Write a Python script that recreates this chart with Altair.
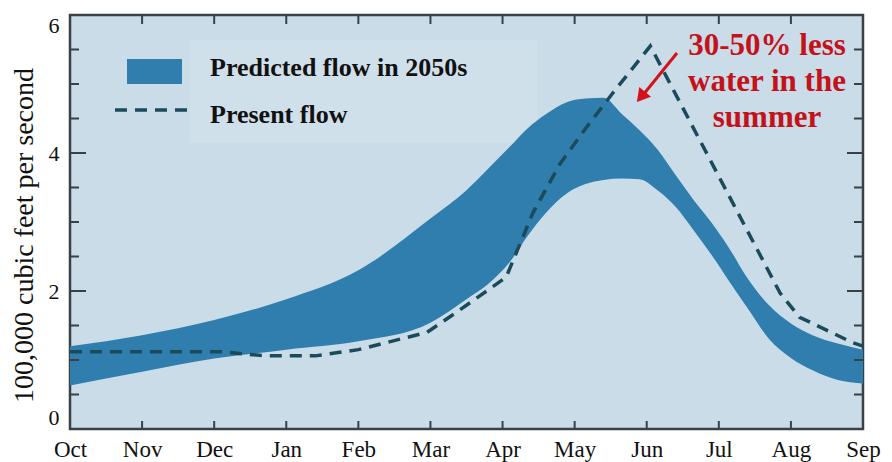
import altair as alt
import pandas as pd

# ---- data ----
months = ["Oct", "Nov", "Dec", "Jan", "Feb", "Mar", "Apr", "May", "Jun", "Jul", "Aug", "Sep"]

# predicted flow band (month index, lower, upper) in 100,000 cfs
band_x = [0, 1, 2, 3, 4, 5, 5.5, 5.8, 6.1, 6.35, 6.6, 6.9, 7.15, 7.4, 7.65, 7.9, 8.15,
          8.4, 8.65, 8.9, 9.15, 9.4, 9.7, 10.0, 10.3, 10.65, 11]
band_lo = [0.63, 0.83, 1.02, 1.15, 1.27, 1.54, 1.88, 2.1, 2.42, 2.8, 3.13, 3.42, 3.55, 3.61, 3.63, 3.62, 3.46,
           3.22, 2.88, 2.52, 2.13, 1.75, 1.3, 1.03, 0.85, 0.71, 0.66]
band_hi = [1.2, 1.36, 1.58, 1.88, 2.3, 3.05, 3.46, 3.77, 4.09, 4.36, 4.56, 4.74, 4.79, 4.8, 4.57, 4.33, 4.05,
           3.68, 3.32, 2.99, 2.61, 2.18, 1.79, 1.53, 1.36, 1.24, 1.15]

# present flow (dashed)
present_x = [0, 2.1, 2.7, 3.4, 4.0, 4.95, 5.4, 6.05, 6.42, 6.8, 7.17, 7.53, 8.05, 9.85, 10.12, 10.4, 10.86, 11]
present_y = [1.12, 1.12, 1.06, 1.06, 1.15, 1.40, 1.72, 2.2, 3.13, 3.85, 4.38, 4.87, 5.55, 1.97, 1.62, 1.48, 1.25, 1.2]

y_major = [0, 2, 4, 6]
y_minor = [0.5, 1, 1.5, 2.5, 3, 3.5, 4.5, 5, 5.5]
x_ticks = [1, 2, 3, 4, 5, 6, 7, 8, 9, 10]

legend_labels = ["Predicted flow in 2050s", "Present flow"]
note_text = "30-50% less\nwater in the\nsummer"

# ---- styling ----
FONT = "Liberation Serif"
BAND = "#2f7eae"
LINE = "#1b4b5a"
FRAME = "#3a4146"
PLOT_BG = "#c9dce8"
W, H = 793, 414

band_df = pd.DataFrame({"x": band_x, "lo": band_lo, "hi": band_hi})
present_df = pd.DataFrame({"x": present_x, "y": present_y})

xscale = alt.Scale(domain=[0, 11], nice=False, zero=False)
yscale = alt.Scale(domain=[0, 6], nice=False)

label_expr = "[" + ",".join(f"'{m}'" for m in months) + "][datum.value]"

x_axis = alt.Axis(values=list(range(12)), labelExpr=label_expr, title=None, grid=False,
                  domain=False, ticks=False, labelFont=FONT, labelFontSize=23,
                  labelColor="#111", labelBaseline="alphabetic", labelPadding=27,
                  labelFlush=False)
y_axis = alt.Axis(values=y_major, format="d", title="100,000 cubic feet per second", grid=False,
                  domain=False, ticks=False, labelFont=FONT, labelFontSize=22,
                  labelColor="#111", labelPadding=11, titleFont=FONT, titleFontSize=28,
                  titleFontWeight="normal", titleColor="#111", titleX=-46, titleY=220,
                  titleBaseline="middle", titleAnchor="middle", labelFlush=True)

one = pd.DataFrame({"a": [0]})

legend_bg = alt.Chart(one).mark_rect(color="white", opacity=0.13).encode(
    x=alt.value(120), x2=alt.value(467), y=alt.value(25), y2=alt.value(128))

band = alt.Chart(band_df).mark_area(interpolate="monotone", color=BAND, opacity=1).encode(
    x=alt.X("x:Q", scale=xscale, axis=x_axis),
    y=alt.Y("hi:Q", scale=yscale, axis=y_axis),
    y2="lo:Q",
)

present = alt.Chart(present_df).mark_line(color=LINE, strokeWidth=3.5, strokeDash=[12, 8]).encode(
    x=alt.X("x:Q", scale=xscale),
    y=alt.Y("y:Q", scale=yscale),
)

# ticks inside the frame
ymaj_df = pd.DataFrame({"v": y_major})
ymin_df = pd.DataFrame({"v": y_minor})
xt_df = pd.DataFrame({"v": x_ticks})

def yticks(df, x0, x1):
    return alt.Chart(df).mark_rule(color=FRAME, strokeWidth=2).encode(
        y=alt.Y("v:Q", scale=yscale), x=alt.value(x0), x2=alt.value(x1))

def xticks(y0, y1):
    return alt.Chart(xt_df).mark_rule(color=FRAME, strokeWidth=2).encode(
        x=alt.X("v:Q", scale=xscale), y=alt.value(y0), y2=alt.value(y1))

ticks = [
    yticks(ymaj_df, 0, 16), yticks(ymin_df, 0, 9),
    yticks(ymaj_df, W, W - 16), yticks(ymin_df, W, W - 9),
    xticks(0, 9), xticks(H, H - 8),
]

# legend
leg_swatch = alt.Chart(one).mark_rect(color=BAND).encode(
    x=alt.value(57), x2=alt.value(112), y=alt.value(44), y2=alt.value(69))
leg_line = alt.Chart(one).mark_rule(color=LINE, strokeWidth=3.5, strokeDash=[12, 8]).encode(
    x=alt.value(45), x2=alt.value(122), y=alt.value(95))
leg_t1 = alt.Chart(pd.DataFrame({"t": [legend_labels[0]]})).mark_text(
    font=FONT, fontSize=26, fontWeight="bold", color="#111", align="left", baseline="alphabetic"
).encode(text="t:N", x=alt.value(140), y=alt.value(61))
leg_t2 = alt.Chart(pd.DataFrame({"t": [legend_labels[1]]})).mark_text(
    font=FONT, fontSize=26, fontWeight="bold", color="#111", align="left", baseline="alphabetic"
).encode(text="t:N", x=alt.value(140), y=alt.value(108))

# annotation
note = alt.Chart(pd.DataFrame({"t": [note_text]})).mark_text(
    font=FONT, fontSize=31, fontWeight="bold", color="#c4121b", align="center",
    baseline="alphabetic", lineBreak="\n", lineHeight=36
).encode(text="t:N", x=alt.value(697), y=alt.value(40))
arrow_shaft = alt.Chart(one).mark_rule(color="#d4121c", strokeWidth=3).encode(
    x=alt.value(607), y=alt.value(38), x2=alt.value(573), y2=alt.value(80))
arrow_head = alt.Chart(one).mark_point(shape="triangle-up", filled=True, color="#d4121c",
                                       size=230, angle=219, opacity=1).encode(
    x=alt.value(571), y=alt.value(82))

chart = alt.layer(
    legend_bg, band, present, *ticks, leg_swatch, leg_line, leg_t1, leg_t2,
    note, arrow_shaft, arrow_head
).properties(
    width=W, height=H, autosize="none",
    padding={"left": 70, "top": 15, "right": 29, "bottom": 33},
    background="white",
).configure_view(fill=PLOT_BG, stroke=FRAME, strokeWidth=2.5)

chart.save("out.html", embed_options={"renderer": "svg", "actions": False})
